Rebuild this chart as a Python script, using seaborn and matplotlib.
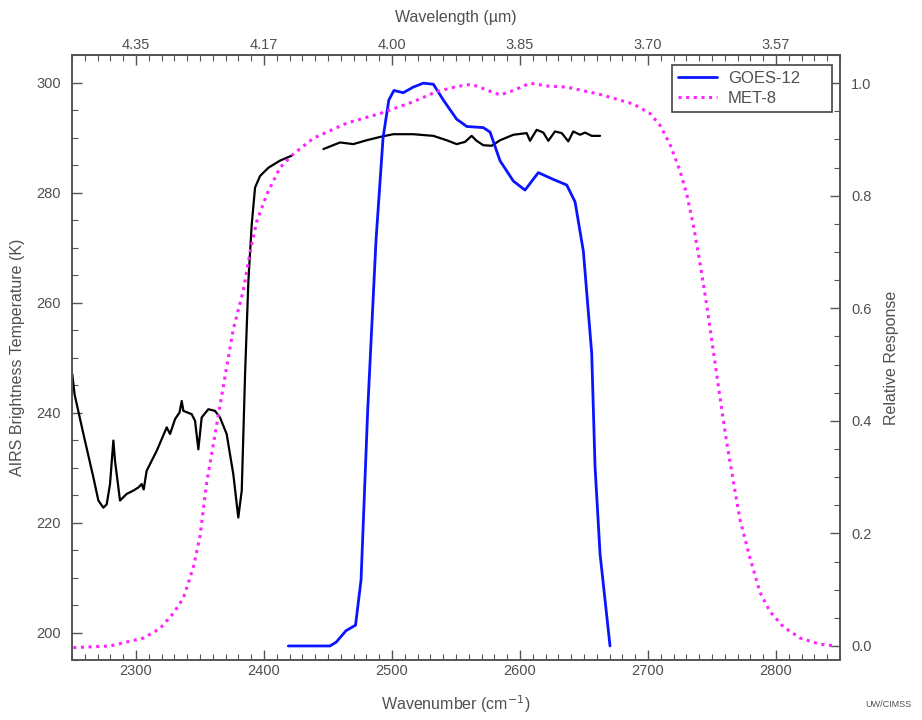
import numpy as np
import pandas as pd
import matplotlib
matplotlib.use("Agg")
import matplotlib.pyplot as plt
from matplotlib.ticker import MultipleLocator, FixedLocator, FixedFormatter
import seaborn as sns

# AIRS brightness temperature spectrum, band below the gap (cm-1, K)
airs_wn_a = [2250.2, 2252.0, 2258.9, 2266.7, 2270.6, 2274.5, 2277.1, 2279.7, 2282.3, 2283.6,
             2287.5, 2292.7, 2297.9, 2302.0, 2304.4, 2306.0, 2308.3, 2316.1, 2324.0, 2326.6,
             2330.5, 2334.0, 2335.7, 2337.0, 2343.5, 2346.1, 2348.7, 2351.3, 2356.5, 2361.7,
             2365.6, 2370.8, 2376.0, 2379.9, 2382.6, 2385.2, 2387.8, 2390.4, 2393.0, 2396.9,
             2403.4, 2412.5, 2421.6]
airs_bt_a = [247.0, 243.3, 236.1, 228.2, 224.0, 222.7, 223.3, 227.0, 234.9, 231.2,
             224.0, 225.2, 225.8, 226.4, 227.0, 226.0, 229.4, 233.0, 237.3, 236.1,
             238.8, 240.0, 242.1, 240.3, 239.7, 238.5, 233.3, 239.1, 240.6, 240.3,
             239.1, 236.1, 228.8, 220.9, 225.8, 247.0, 264.0, 274.2, 280.9, 283.0,
             284.5, 285.8, 286.7]

# AIRS brightness temperature spectrum, band above the gap (cm-1, K)
airs_wn_b = [2446.4, 2459.4, 2469.8, 2480.2, 2490.6, 2501.0, 2516.6, 2532.3, 2542.7, 2550.5,
             2557.0, 2562.2, 2566.1, 2571.3, 2577.9, 2584.4, 2594.8, 2605.2, 2607.8, 2613.0,
             2618.2, 2622.1, 2627.3, 2632.6, 2637.7, 2641.6, 2646.9, 2650.8, 2656.0, 2662.5]
airs_bt_b = [287.9, 289.1, 288.8, 289.5, 290.1, 290.6, 290.6, 290.3, 289.5, 288.8,
             289.2, 290.3, 289.4, 288.6, 288.5, 289.5, 290.5, 290.8, 289.4, 291.4,
             290.9, 289.4, 291.1, 290.8, 289.3, 291.1, 290.5, 290.9, 290.3, 290.3]

# GOES-12 imager band 2 spectral response function
goes_wn = [2419.0, 2451.6, 2456.5, 2464.0, 2471.5, 2475.8, 2481.0, 2487.5, 2493.0, 2497.5,
           2501.5, 2508.8, 2516.6, 2524.5, 2532.3, 2540.1, 2550.5, 2558.4, 2571.3, 2576.6,
           2584.4, 2594.8, 2603.9, 2614.3, 2626.0, 2636.5, 2643.0, 2649.5, 2656.0, 2658.6,
           2662.5, 2670.3]
goes_resp = [0.0, 0.0, 0.007, 0.027, 0.037, 0.117, 0.419, 0.721, 0.903, 0.970,
             0.987, 0.983, 0.993, 1.0, 0.998, 0.970, 0.936, 0.923, 0.921, 0.913,
             0.862, 0.826, 0.810, 0.841, 0.829, 0.819, 0.789, 0.701, 0.520, 0.319,
             0.164, 0.0]

# MET-8 SEVIRI 3.9 um channel spectral response function
met_wn = [2251.0, 2279.7, 2305.7, 2318.8, 2329.1, 2337.0, 2344.8, 2350.0, 2355.2, 2360.4,
          2365.6, 2370.8, 2376.0, 2383.8, 2389.1, 2394.3, 2402.1, 2412.5, 2422.9, 2438.5,
          2464.6, 2490.6, 2516.6, 2534.9, 2550.5, 2562.2, 2573.9, 2584.4, 2594.8, 2607.8,
          2620.8, 2636.5, 2662.5, 2688.5, 2701.6, 2709.4, 2717.2, 2725.0, 2730.2, 2735.4,
          2740.6, 2745.9, 2751.0, 2756.2, 2761.5, 2766.6, 2771.9, 2779.7, 2787.5, 2795.3,
          2805.7, 2818.8, 2834.4, 2847.4]
met_resp = [-0.003, 0.0, 0.014, 0.031, 0.058, 0.085, 0.140, 0.195, 0.290, 0.358,
            0.427, 0.495, 0.563, 0.631, 0.700, 0.754, 0.802, 0.850, 0.874, 0.902,
            0.929, 0.946, 0.967, 0.985, 0.994, 0.998, 0.988, 0.979, 0.987, 1.0,
            0.995, 0.993, 0.980, 0.963, 0.946, 0.925, 0.891, 0.844, 0.803, 0.748,
            0.680, 0.605, 0.524, 0.442, 0.361, 0.293, 0.224, 0.156, 0.095, 0.061,
            0.034, 0.014, 0.003, 0.0]

# Axis ticks
wn_ticks = [2300, 2400, 2500, 2600, 2700, 2800]
wl_labels = ["4.35", "4.17", "4.00", "3.85", "3.70", "3.57"]
bt_ticks = [200, 220, 240, 260, 280, 300]
resp_ticks = [0.0, 0.2, 0.4, 0.6, 0.8, 1.0]

sns.set_style("ticks")
plt.rcParams["font.family"] = ["Liberation Sans", "DejaVu Sans"]

text_col = "#505050"
spine_col = "#555555"

fig = plt.figure(figsize=(9.22, 7.2), dpi=100)
ax = fig.add_axes([0.0781, 0.0833, 0.8330, 0.8403])
ax2 = ax.twinx()

df_a = pd.DataFrame({"wn": airs_wn_a, "bt": airs_bt_a})
df_b = pd.DataFrame({"wn": airs_wn_b, "bt": airs_bt_b})
df_goes = pd.DataFrame({"wn": goes_wn, "resp": goes_resp})
df_met = pd.DataFrame({"wn": met_wn, "resp": met_resp})

sns.lineplot(data=df_a, x="wn", y="bt", ax=ax, color="black", linewidth=1.6,
             estimator=None, sort=False)
sns.lineplot(data=df_b, x="wn", y="bt", ax=ax, color="black", linewidth=1.6,
             estimator=None, sort=False)

sns.lineplot(data=df_goes, x="wn", y="resp", ax=ax2, color="#0a14ff", linewidth=2.0,
             estimator=None, sort=False, label="GOES-12")
sns.lineplot(data=df_met, x="wn", y="resp", ax=ax2, color="#ff22ff", linewidth=2.2,
             linestyle=(0, (1, 1.5)), estimator=None, sort=False, label="MET-8")

ax.set_xlim(2250, 2850)
ax.set_ylim(195, 305)
ax2.set_ylim(-0.025, 1.05)

ax.set_xticks(wn_ticks)
ax.xaxis.set_minor_locator(MultipleLocator(10))
ax.set_yticks(bt_ticks)
ax.yaxis.set_minor_locator(MultipleLocator(5))
ax2.set_yticks(resp_ticks)
ax2.set_yticklabels([f"{v:.1f}" for v in resp_ticks])
ax2.yaxis.set_minor_locator(MultipleLocator(0.05))

# Wavelength scale along the top edge
top = ax.secondary_xaxis("top")
top.xaxis.set_major_locator(FixedLocator(wn_ticks))
top.xaxis.set_major_formatter(FixedFormatter(wl_labels))
top.xaxis.set_minor_locator(MultipleLocator(10))

label_kw = dict(color=text_col, fontsize=11.5)
top.set_xlabel("Wavelength (\u00b5m)", labelpad=12, **label_kw)
ax.set_xlabel("Wavenumber (cm$^{-1}$)", labelpad=11, **label_kw)
ax.set_ylabel("AIRS Brightness Temperature (K)", labelpad=8, **label_kw)
ax2.set_ylabel("Relative Response", labelpad=9, **label_kw)

for a in (ax, ax2, top):
    a.tick_params(which="major", direction="in", length=7, width=1.0,
                  colors=spine_col, labelcolor=text_col, labelsize=10.5)
    a.tick_params(which="minor", direction="in", length=4, width=0.8, colors=spine_col)
ax.tick_params(axis="x", which="major", pad=3)
top.tick_params(axis="x", which="major", pad=2)
ax.tick_params(axis="y", which="major", pad=8)
ax2.tick_params(axis="y", which="major", pad=8)
for a in (ax, ax2):
    for s in a.spines.values():
        s.set_color(spine_col)
        s.set_linewidth(1.2)
top.spines["top"].set_color(spine_col)
top.spines["top"].set_linewidth(1.2)

# Legend box stretched over a fixed figure region
leg = ax2.legend(loc="upper left", mode="expand",
                 bbox_to_anchor=(672 / 922, 1 - 108 / 720, 160 / 922, 43 / 720),
                 bbox_transform=fig.transFigure, borderaxespad=0,
                 fancybox=False, framealpha=1, edgecolor="#444444",
                 fontsize=12, handlelength=2.35, handletextpad=0.65,
                 borderpad=0.35, labelspacing=0.3)
leg.get_frame().set_linewidth(1.2)
for t in leg.get_texts():
    t.set_color(text_col)

fig.text(0.963, 0.022, "UW/CIMSS", fontsize=6.5, color=text_col, ha="center", va="center")

fig.savefig("out.png", dpi=100)
